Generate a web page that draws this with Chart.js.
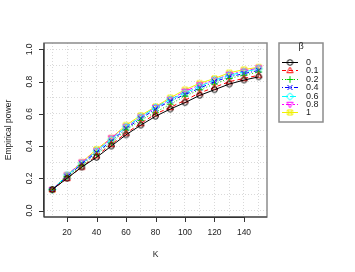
<!DOCTYPE html>
<html>
<head>
<meta charset="utf-8">
<script src="https://cdn.jsdelivr.net/npm/chart.js@4/dist/chart.umd.min.js"></script>
<style>
  html, body { margin: 0; padding: 0; background: #fff; }
  #wrap { width: 355px; height: 272px; position: relative; }
</style>
</head>
<body>
<div id="wrap"><canvas id="myChart" width="355" height="272"></canvas></div>
<script>
// data
const kValues = [10, 20, 30, 40, 50, 60, 70, 80, 90, 100, 110, 120, 130, 140, 150];
const betaLabels = ["0", "0.1", "0.2", "0.4", "0.6", "0.8", "1"];
const power0  = [0.13, 0.20, 0.27, 0.33, 0.40, 0.47, 0.53, 0.585, 0.63, 0.67, 0.715, 0.75, 0.785, 0.81, 0.83];
const power01 = [0.13, 0.20, 0.27, 0.34, 0.41, 0.48, 0.54, 0.60, 0.64, 0.685, 0.73, 0.765, 0.80, 0.82, 0.84];
const power02 = [0.13, 0.21, 0.28, 0.35, 0.42, 0.50, 0.56, 0.61, 0.66, 0.71, 0.75, 0.785, 0.82, 0.84, 0.86];
const power04 = [0.13, 0.21, 0.29, 0.36, 0.43, 0.51, 0.57, 0.63, 0.68, 0.72, 0.76, 0.80, 0.83, 0.85, 0.87];
const power06 = [0.13, 0.22, 0.29, 0.37, 0.44, 0.52, 0.58, 0.64, 0.69, 0.73, 0.77, 0.81, 0.84, 0.86, 0.88];
const power08 = [0.13, 0.22, 0.30, 0.37, 0.45, 0.52, 0.58, 0.64, 0.69, 0.74, 0.78, 0.81, 0.845, 0.865, 0.885];
const power1  = [0.13, 0.22, 0.30, 0.38, 0.45, 0.53, 0.59, 0.645, 0.70, 0.75, 0.79, 0.82, 0.855, 0.875, 0.89];
const xGridTicks = [10, 20, 30, 40, 50, 60, 70, 80, 90, 100, 110, 120, 130, 140, 150];
const xLabelTicks = [20, 40, 60, 80, 100, 120, 140];
const yGridTicks = [0, 0.1, 0.2, 0.3, 0.4, 0.5, 0.6, 0.7, 0.8, 0.9, 1.0];
const yLabelTicks = [0, 0.2, 0.4, 0.6, 0.8, 1.0];

const allSeries = [power0, power01, power02, power04, power06, power08, power1];
const colors = ["#000000", "#FF0000", "#00CD00", "#0000FF", "#00FFFF", "#FF00FF", "#F0F000"];
const dashes = [[], [4, 3], [1, 2], [1, 2, 4, 2], [6, 2], [2, 2, 5, 2], []];
const pchs = [1, 2, 3, 4, 5, 6, 7];
const FONT = '"Liberation Sans", Arial, sans-serif';

function drawPch(ctx, pch, x, y, r, color) {
    ctx.save();
    ctx.strokeStyle = color;
    ctx.lineWidth = 1;
    ctx.beginPath();
    if (pch === 1) {
        ctx.arc(x, y, r, 0, Math.PI * 2);
    } else if (pch === 2) {
        ctx.moveTo(x, y - r * 1.2); ctx.lineTo(x + r * 1.1, y + r * 0.8); ctx.lineTo(x - r * 1.1, y + r * 0.8); ctx.closePath();
    } else if (pch === 3) {
        ctx.moveTo(x - r * 1.2, y); ctx.lineTo(x + r * 1.2, y);
        ctx.moveTo(x, y - r * 1.2); ctx.lineTo(x, y + r * 1.2);
    } else if (pch === 4) {
        ctx.moveTo(x - r * 0.9, y - r * 0.9); ctx.lineTo(x + r * 0.9, y + r * 0.9);
        ctx.moveTo(x + r * 0.9, y - r * 0.9); ctx.lineTo(x - r * 0.9, y + r * 0.9);
    } else if (pch === 5) {
        ctx.moveTo(x, y - r * 1.3); ctx.lineTo(x + r * 1.3, y); ctx.lineTo(x, y + r * 1.3); ctx.lineTo(x - r * 1.3, y); ctx.closePath();
    } else if (pch === 6) {
        ctx.moveTo(x, y + r * 1.2); ctx.lineTo(x + r * 1.1, y - r * 0.8); ctx.lineTo(x - r * 1.1, y - r * 0.8); ctx.closePath();
    } else if (pch === 7) {
        ctx.rect(x - r * 0.9, y - r * 0.9, r * 1.8, r * 1.8);
        ctx.moveTo(x - r * 0.9, y - r * 0.9); ctx.lineTo(x + r * 0.9, y + r * 0.9);
        ctx.moveTo(x + r * 0.9, y - r * 0.9); ctx.lineTo(x - r * 0.9, y + r * 0.9);
    }
    ctx.stroke();
    ctx.restore();
}

function makeMarker(pch, color) {
    const c = document.createElement("canvas");
    c.width = 11; c.height = 11;
    drawPch(c.getContext("2d"), pch, 5.5, 5.5, 2.8, color);
    return c;
}

const datasets = allSeries.map((vals, i) => ({
    label: betaLabels[i],
    data: vals,
    borderColor: colors[i],
    backgroundColor: colors[i],
    borderWidth: 1,
    borderDash: dashes[i],
    pointStyle: makeMarker(pchs[i], colors[i]),
    pointRadius: 3,
    tension: 0,
    fill: false
}));

// R style axes, box, labels
const rAxes = {
    id: "rAxes",
    afterDraw(chart) {
        const ctx = chart.ctx;
        const a = chart.chartArea;
        const xs = chart.scales.x, ys = chart.scales.y;
        ctx.save();
        // box
        ctx.strokeStyle = "#8c8c8c";
        ctx.lineWidth = 1.5;
        ctx.strokeRect(a.left, a.top, a.right - a.left, a.bottom - a.top);
        ctx.strokeStyle = "#333";
        ctx.lineWidth = 1;
        ctx.beginPath();
        ctx.moveTo(a.left, a.top); ctx.lineTo(a.left, a.bottom); ctx.lineTo(a.right, a.bottom);
        ctx.stroke();
        ctx.fillStyle = "#222";
        ctx.font = "8.5px " + FONT;
        // y axis
        ctx.beginPath();
        ctx.moveTo(a.left - 0.5, ys.getPixelForValue(0));
        ctx.lineTo(a.left - 0.5, ys.getPixelForValue(1));
        yLabelTicks.forEach(v => {
            const py = Math.round(ys.getPixelForValue(v)) + 0.5;
            ctx.moveTo(a.left, py); ctx.lineTo(a.left - 5, py);
        });
        ctx.stroke();
        yLabelTicks.forEach(v => {
            const py = ys.getPixelForValue(v);
            ctx.save();
            ctx.translate(30, py);
            ctx.rotate(-Math.PI / 2);
            ctx.textAlign = "center"; ctx.textBaseline = "middle";
            ctx.fillText(v.toFixed(1), 0, 0);
            ctx.restore();
        });
        // x axis
        ctx.beginPath();
        ctx.moveTo(xs.getPixelForValue(20), a.bottom + 0.5);
        ctx.lineTo(xs.getPixelForValue(140), a.bottom + 0.5);
        xLabelTicks.forEach(v => {
            const px = Math.round(xs.getPixelForValue(v)) + 0.5;
            ctx.moveTo(px, a.bottom); ctx.lineTo(px, a.bottom + 5);
        });
        ctx.stroke();
        ctx.textAlign = "center"; ctx.textBaseline = "middle";
        xLabelTicks.forEach(v => {
            ctx.fillText(String(v), xs.getPixelForValue(v), 233);
        });
        // axis titles
        ctx.fillText("K", (a.left + a.right) / 2, 255);
        ctx.save();
        ctx.translate(9, (a.top + a.bottom) / 2);
        ctx.rotate(-Math.PI / 2);
        ctx.fillText("Empirical power", 0, 0);
        ctx.restore();
        ctx.restore();
    }
};

// R style legend with title
const rLegend = {
    id: "rLegend",
    afterDraw(chart) {
        const ctx = chart.ctx;
        const bx = 279, by = 43, bw = 44, bh = 79;
        ctx.save();
        ctx.strokeStyle = "#8c8c8c";
        ctx.lineWidth = 1.5;
        ctx.strokeRect(bx, by, bw, bh);
        ctx.fillStyle = "#222";
        ctx.font = "9px " + FONT;
        ctx.textAlign = "center"; ctx.textBaseline = "middle";
        ctx.fillText("β", bx + bw / 2, by + 4);
        ctx.font = "9px " + FONT;
        ctx.textAlign = "left";
        chart.data.datasets.forEach((ds, i) => {
            const y = Math.round(by + 19 + i * 8.4) + 0.5;
            ctx.save();
            ctx.strokeStyle = ds.borderColor;
            ctx.lineWidth = 1;
            ctx.setLineDash(ds.borderDash);
            ctx.beginPath();
            ctx.moveTo(bx + 3, y); ctx.lineTo(bx + 19, y);
            ctx.stroke();
            ctx.restore();
            ctx.drawImage(ds.pointStyle, bx + 11 - 5.5, y - 5.5);
            ctx.fillText(ds.label, bx + 27, y + 0.5);
        });
        ctx.restore();
    }
};

const myChartRef = document.getElementById("myChart").getContext("2d");
new Chart(myChartRef, {
    type: "line",
    data: { labels: kValues, datasets: datasets },
    options: {
        responsive: false,
        animation: false,
        layout: { padding: { top: 43, right: 88, left: 0, bottom: 0 }, autoPadding: false },
        plugins: { legend: { display: false }, tooltip: { enabled: false } },
        scales: {
            x: {
                type: "linear",
                min: 4.4, max: 155.6,
                afterBuildTicks: s => { s.ticks = xGridTicks.map(v => ({ value: v })); },
                afterFit: s => { s.height = 55; },
                ticks: { display: false },
                grid: { color: "#d9d9d9", drawTicks: false },
                border: { display: false, dash: [1, 2] }
            },
            y: {
                min: -0.04, max: 1.04,
                afterBuildTicks: s => { s.ticks = yGridTicks.map(v => ({ value: v })); },
                afterFit: s => { s.width = 44; },
                ticks: { display: false },
                grid: { color: "#d9d9d9", drawTicks: false },
                border: { display: false, dash: [1, 2] }
            }
        }
    },
    plugins: [rAxes, rLegend]
});
</script>
</body>
</html>
